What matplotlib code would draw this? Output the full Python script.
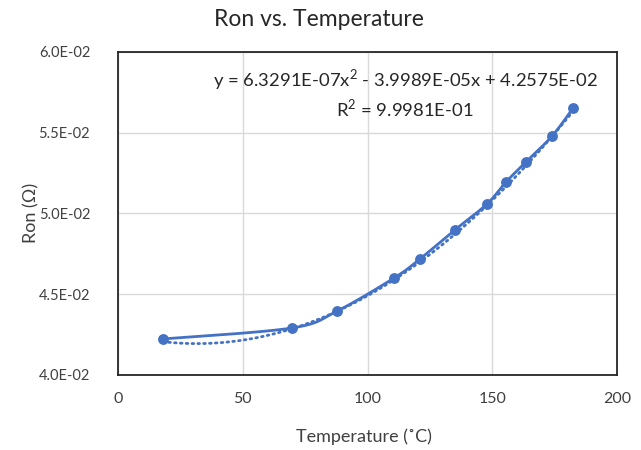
import numpy as np
import matplotlib
matplotlib.use("Agg")
import matplotlib.pyplot as plt

# ---- data ----
temperature = [18.0, 69.7, 87.8, 110.6, 121.0, 135.0, 147.9, 155.5, 163.5, 174.0, 182.4]
ron = [0.04223, 0.04291, 0.04396, 0.04600, 0.04718, 0.04898, 0.05059, 0.05195, 0.05319, 0.05480, 0.05653]
trend_coefs = [6.3291E-07, -3.9989E-05, 4.2575E-02]   # a*x^2 + b*x + c
x_ticks = [0, 50, 100, 150, 200]
y_ticks = [0.040, 0.045, 0.050, 0.055, 0.060]
y_tick_labels = ["4.0E-02", "4.5E-02", "5.0E-02", "5.5E-02", "6.0E-02"]
eq_text = "y = 6.3291E-07x$^2$ - 3.9989E-05x + 4.2575E-02\nR$^2$ = 9.9981E-01"

BLUE = "#4472C4"
plt.rcParams['font.family'] = ['Lato', 'DejaVu Sans']
plt.rcParams['mathtext.fontset'] = 'custom'
plt.rcParams['mathtext.rm'] = 'Lato'

fig = plt.figure(figsize=(6.41, 4.5), dpi=100)
ax = fig.add_axes([0.1841, 0.1667, 0.7785, 0.7178])
xlim = (0, 200)
ylim = (0.040, 0.060)
ax.set_xlim(*xlim)
ax.set_ylim(*ylim)


def smooth(xs, ys, n=30):
    # Catmull-Rom style Bezier smoothing (like Excel smoothed lines), in normalized space
    xs = np.asarray(xs, float); ys = np.asarray(ys, float)
    sx = xlim[1] - xlim[0]; sy = (ylim[1] - ylim[0]) * (0.7178 * 4.5) / (0.7785 * 6.41)
    P = np.column_stack([(xs - xlim[0]) / sx, (ys - ylim[0]) / sy])
    Pp = np.vstack([P[0], P, P[-1]])
    out = []
    t = np.linspace(0, 1, n)[:, None]
    for i in range(1, len(Pp) - 2):
        p0, p1, p2, p3 = Pp[i - 1], Pp[i], Pp[i + 1], Pp[i + 2]
        c1 = p1 + (p2 - p0) / 6
        c2 = p2 - (p3 - p1) / 6
        seg = ((1 - t) ** 3) * p1 + 3 * ((1 - t) ** 2) * t * c1 + 3 * (1 - t) * t ** 2 * c2 + t ** 3 * p2
        out.append(seg if i == 1 else seg[1:])
    out = np.vstack(out)
    return out[:, 0] * sx + xlim[0], out[:, 1] * sy + ylim[0]


sxs, sys_ = smooth(temperature, ron)
ax.plot(sxs, sys_, color=BLUE, lw=2.0, solid_capstyle='round', zorder=3)
ax.plot(temperature, ron, 'o', color=BLUE, ms=6.8, zorder=4)

xt = np.linspace(min(temperature), max(temperature), 300)
yt = np.polyval(trend_coefs, xt)
ax.plot(xt, yt, color=BLUE, lw=2.0, linestyle=(0, (0.6, 1.5)), dash_capstyle='round', zorder=2)

ax.set_xticks(x_ticks)
ax.set_yticks(y_ticks)
ax.set_yticklabels(y_tick_labels)
ax.tick_params(axis='both', length=0, colors='#404040')
ax.tick_params(axis='y', pad=20, labelsize=10.5)
ax.tick_params(axis='x', pad=12, labelsize=11.5)
ax.grid(True, color='#d9d9d9', lw=1.0)
ax.set_axisbelow(True)
for s in ax.spines.values():
    s.set_color('#262626')
    s.set_linewidth(1.3)

fig.text(319 / 641, 1 - 20 / 450, "Ron vs. Temperature", fontsize=16.5, color='#262626',
         ha='center', va='center')
fig.text(364 / 641, 1 - 437 / 450, "Temperature (\u02daC)", fontsize=13, color='#404040',
         ha='center', va='center')
fig.text(31 / 641, 1 - 213 / 450, "Ron (\u03a9)", fontsize=13, color='#404040',
         ha='center', va='center', rotation=90)

fig.text(405 / 641, 1 - 93 / 450, eq_text, fontsize=13.3, color='#262626',
         ha='center', va='center', multialignment='center', linespacing=1.3)

fig.savefig("out.png", dpi=100)
